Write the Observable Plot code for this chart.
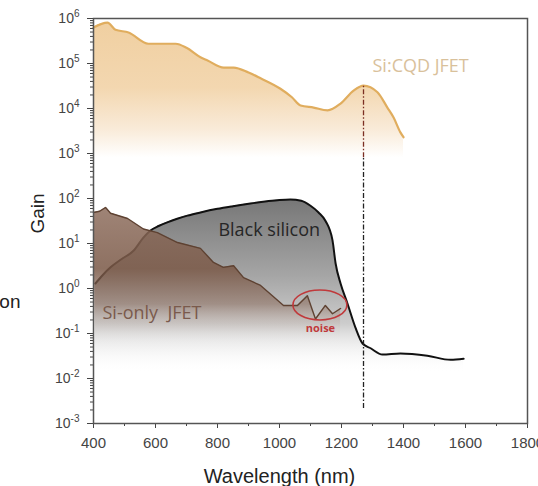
<!DOCTYPE html>
<html><head><meta charset="utf-8">
<script src="https://cdn.jsdelivr.net/npm/d3@7"></script>
<script src="https://cdn.jsdelivr.net/npm/@observablehq/plot@0.6"></script>
<style>
body{margin:0;background:#fff;}
#chart svg{overflow:visible;}
</style>
</head><body><div id="chart"></div>
<script>
// Si:CQD JFET gain
const cqdWl   = [400,445,471,513,577,665,700,745,768,820,852,900,939,1003,1040,1068,1110,1155,1197,1239,1271,1316,1348,1368,1390,1400];
const cqdGain = [6.3e5,8.1e5,5.6e5,4.9e5,2.75e5,2.75e5,2.24e5,1.38e5,1.17e5,8.1e4,8.1e4,6.3e4,4.7e4,2.75e4,1.78e4,1.17e4,1.05e4,9.1e3,1.29e4,2.5e4,3.24e4,2.3e4,1.05e4,6.3e3,2.95e3,2.3e3];
// Black silicon
const bsWl   = [406,430,455,490,529,561,584,610,638,670,703,745,800,850,906,960,1000,1035,1070,1100,1126,1148,1171,1181,1197,1219,1245,1268,1294,1332,1390,1477,1552,1594];
const bsGain = [1.29,2.0,2.95,4.47,6.9,13.5,19.5,24.5,29.5,35.5,41.7,49,59,67.6,77.6,87,93,95.5,89,69,49,32,11.7,3.6,1.29,0.47,0.135,0.060,0.047,0.034,0.036,0.032,0.026,0.0275];
// Si-only JFET
const siWl   = [400,420,439,455,510,561,606,671,745,787,819,852,884,939,1013,1058,1090,1116,1148,1171,1197];
const siGain = [49,52,63,47,36,21,17.4,10.5,7.8,3.8,2.95,3.2,1.74,1.17,0.42,0.42,0.69,0.21,0.42,0.275,0.36];
// marker at the Si:CQD peak
const peakWl = 1271;
const peakGain = 3.24e4;
// ticks
const xMajor = [400,600,800,1000,1200,1400,1600,1800];
const xMinor = [500,700,900,1100,1300,1500,1700];
const yMajor = [1e-3,1e-2,1e-1,1e0,1e1,1e2,1e3,1e4,1e5,1e6];
const yMinor = [];
for (let e = -3; e < 6; e++) for (let m = 2; m <= 9; m++) yMinor.push(m * Math.pow(10, e));

const cqd = cqdWl.map((wl, i) => ({wl, gain: cqdGain[i]}));
const bs  = bsWl.map((wl, i) => ({wl, gain: bsGain[i]}));
const si  = siWl.map((wl, i) => ({wl, gain: siGain[i]}));

const lab = "Open Sans, Noto Sans, sans-serif";

const chart = Plot.plot({
  width: 538, height: 486,
  marginLeft: 93, marginRight: 11, marginTop: 18, marginBottom: 63,
  style: {fontFamily: "Liberation Sans, Arial, sans-serif", background: "#fff"},
  x: {domain: [400, 1800]},
  y: {type: "log", domain: [1e-3, 1e6]},
  marks: [
    Plot.areaY(cqd, {x: "wl", y1: 800, y2: "gain", fill: "url(#gOrange)", curve: "monotone-x"}),
    Plot.lineY(cqd, {x: "wl", y: "gain", stroke: "#e0ad5e", strokeWidth: 2.2, curve: "monotone-x"}),
    Plot.areaY(bs, {x: "wl", y1: 0.013, y2: "gain", fill: "url(#gGray)", curve: "monotone-x"}),
    Plot.lineY(bs, {x: "wl", y: "gain", stroke: "#111", strokeWidth: 2, curve: "monotone-x"}),
    Plot.areaY(si, {x: "wl", y1: 0.05, y2: "gain", fill: "url(#gBrown)"}),
    Plot.lineY(si, {x: "wl", y: "gain", stroke: "#5e4232", strokeWidth: 1.4}),
    Plot.ruleX([peakWl], {y1: 800, y2: peakGain, stroke: "#7b2e22", strokeWidth: 1.3, strokeDasharray: "5,2,1.5,2"}),
    Plot.ruleX([peakWl], {y1: 0.00215, y2: 800, stroke: "#222", strokeWidth: 1.3, strokeDasharray: "5,2,1.5,2"}),
    Plot.text(["Si:CQD JFET"], {x: 1300, y: 66000, text: d => d, textAnchor: "start", lineAnchor: "bottom", fill: "#d9c19b", fontSize: 18, fontFamily: lab}),
    Plot.text(["Black silicon"], {x: 803, y: 14.5, text: d => d, textAnchor: "start", lineAnchor: "bottom", fill: "#262626", fontSize: 18, fontFamily: lab}),
    Plot.text(["Si-only\u00a0 JFET"], {x: 429, y: 0.215, text: d => d, textAnchor: "start", lineAnchor: "bottom", fill: "#7a5a4c", fontSize: 18, fontFamily: lab}),
    Plot.text(["noise"], {x: 1132, y: 0.11, text: d => d, textAnchor: "middle", lineAnchor: "bottom", fill: "#c0393b", fontSize: 11, fontWeight: "bold", fontFamily: lab}),
    Plot.text(["Wavelength (nm)"], {x: 1000, frameAnchor: "bottom", dy: 59, text: d => d, lineAnchor: "bottom", fill: "#222", fontSize: 20}),
    Plot.text(["Gain"], {y: 16.6, frameAnchor: "left", dx: -50, rotate: -90, text: d => d, lineAnchor: "bottom", fill: "#222", fontSize: 19}),
    Plot.text(["on"], {y: 0.5, frameAnchor: "left", dx: -73, text: d => d, textAnchor: "end", lineAnchor: "middle", fill: "#222", fontSize: 19}),
    Plot.axisX(xMajor, {tickSize: 5, tickPadding: 9, fontSize: 15, color: "#444", label: null, tickFormat: d => String(d)}),
    Plot.axisX(xMinor, {tickSize: 3, tickFormat: () => "", color: "#444", label: null}),
    Plot.axisY(yMajor, {tickSize: 6, tickPadding: 8, fontSize: 14, color: "#444", label: null,
      tickFormat: d => "10^" + Math.round(Math.log10(d))}),
    Plot.axisY(yMinor, {tickSize: 3, tickFormat: () => "", color: "#444", label: null}),
    Plot.frame({stroke: "#555", strokeWidth: 1.5})
  ]
});

const svg = d3.select(chart);
const xs = chart.scale("x"), ys = chart.scale("y");
const defs = svg.insert("defs", ":first-child");
function grad(id, top, bottom, stops) {
  const g = defs.append("linearGradient").attr("id", id).attr("gradientUnits", "userSpaceOnUse")
    .attr("x1", 0).attr("x2", 0).attr("y1", ys.apply(top)).attr("y2", ys.apply(bottom));
  stops.forEach(([o, c, a]) => g.append("stop").attr("offset", o).attr("stop-color", c).attr("stop-opacity", a));
}
grad("gOrange", 1e6, 800, [[0, "#f0cfa0", 1], [0.5, "#f3d7b0", 1], [0.8, "#f9ebd9", 1], [1, "#ffffff", 1]]);
grad("gGray", 100, 0.013, [[0, "#767676", 1], [0.45, "#a6a6a6", 1], [0.72, "#cdcdcd", 1], [1, "#ffffff", 0]]);
grad("gBrown", 70, 0.05, [[0, "#8f6f5f", 0.85], [0.45, "#7a5846", 0.85], [0.7, "#8a6a5a", 0.55], [1, "#ffffff", 0]]);

// superscript exponents on y tick labels
svg.selectAll("text").each(function() {
  const t = this.textContent;
  const m = /^10\^(-?\d+)$/.exec(t);
  if (!m) return;
  const el = d3.select(this);
  el.text("");
  el.append("tspan").text("10");
  el.append("tspan").attr("dy", "-6").attr("font-size", "10").text(m[1]);
});

// red ellipse around the noise region
svg.append("ellipse")
  .attr("cx", xs.apply(1132)).attr("cy", ys.apply(0.42))
  .attr("rx", 27).attr("ry", 15)
  .attr("fill", "none").attr("stroke", "#c0393b").attr("stroke-width", 1.6);

document.getElementById("chart").appendChild(chart);
</script>
</body></html>
